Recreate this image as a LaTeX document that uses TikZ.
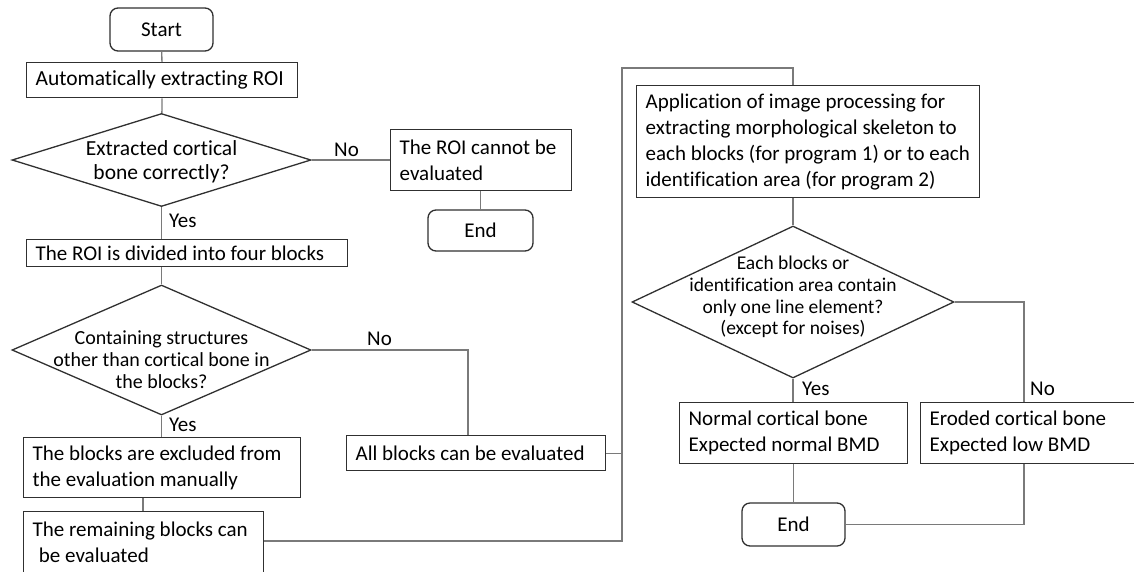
\documentclass[tikz,border=0pt]{standalone}
\usepackage{fontspec}
\setmainfont{Carlito}[Ligatures=CommonOff]
\usetikzlibrary{shapes.geometric}
\definecolor{boxc}{HTML}{303030}
\definecolor{linec}{HTML}{7A7A7A}
\newcommand\bxf{\fontsize{21}{26}\selectfont}
\newcommand\dxf{\fontsize{19.5}{21.7}\selectfont}
\tikzset{
  every node/.style={execute at begin node={\spaceskip=0.226em plus 0.1em minus 0.05em\relax}},
  box/.style={draw=boxc, line width=1.3pt, inner xsep=9pt, inner ysep=0pt, align=left, anchor=north west, font=\bxf},
  term/.style={draw=boxc, line width=1.3pt, rounded corners=8pt, inner sep=0pt, align=center, font=\bxf},
  dia/.style={draw=boxc, line width=1.3pt, shape=diamond, inner sep=0pt},
  dtext/.style={align=center, inner sep=0pt, font=\dxf},
  conn/.style={draw=linec, line width=1.3pt},
  lbl/.style={font=\bxf, inner sep=0pt, anchor=west}
}
\begin{document}
\begin{tikzpicture}[x=1pt,y=-1pt]
\useasboundingbox (0,0) rectangle (1134,571);
\clip (0,0) rectangle (1134,571);
% left column
\node[term, minimum width=103pt, minimum height=43pt] (start) at (161.5,29.5) {Start};
\node[box, text width=253pt, minimum height=35pt, font=\fontsize{21.5}{26}\selectfont] (auto) at (26,62) {Automatically extracting ROI};
\node[dia, minimum width=299pt, minimum height=93pt] (d1) at (161.5,160) {};
\node[dtext, font=\fontsize{21.5}{24}\selectfont] (d1t) at (161.5,162) {Extracted cortical\\bone correctly?};
\node[box, text width=163pt, minimum height=61pt] (roic) at (390,129) {The ROI cannot be\\evaluated};
\node[term, minimum width=105pt, minimum height=41pt] (end1) at (480.5,230.5) {End};
\node[box, text width=303pt, minimum height=27pt] (div) at (26,239) {The ROI is divided into four blocks};
\node[dia, minimum width=299pt, minimum height=130pt] (d2) at (161.5,350) {};
\node[dtext, font=\fontsize{20}{22}\selectfont] (d2t) at (161.5,360) {Containing structures\\other than cortical bone in\\the blocks?};
\node[box, text width=259pt, minimum height=60pt] (excl) at (23,437) {The blocks are excluded from\\the evaluation manually};
\node[box, text width=222pt, minimum height=61pt] (rem) at (23,511) {The remaining blocks can\\\hspace{0.3em}be evaluated};
\node[box, text width=241pt, minimum height=35pt] (all) at (346,435) {All blocks can be evaluated};
% right column
\node[box, text width=325pt, minimum height=112pt] (app) at (636,85) {Application of image processing for\\extracting morphological skeleton to\\each blocks (for program 1) or to each\\identification area (for program 2)};
\node[dia, minimum width=322pt, minimum height=152pt] (d3) at (793,302) {};
\node[dtext] (d3t) at (793,297) {Each blocks or\\identification area contain\\only one line element?\\(except for noises)};
\node[box, text width=210pt, minimum height=61pt] (norm) at (679,402) {Normal cortical bone\\Expected normal BMD};
\node[box, text width=210pt, minimum height=61pt] (ero) at (920,402) {Eroded cortical bone\\Expected low BMD};
\node[term, minimum width=103pt, minimum height=43pt] (end2) at (793.5,524.5) {End};
% labels
\node[lbl] (no1) at (334,150) {No};
\node[lbl] (yes1) at (169,221) {Yes};
\node[lbl] (no2) at (367,339) {No};
\node[lbl] (yes2) at (169,425) {Yes};
\node[lbl] (yes3) at (802,389) {Yes};
\node[lbl] (no3) at (1030,389) {No};
% helper coordinates
\coordinate (c2) at (468,350);
\coordinate (busB) at (622,541);
\coordinate (busT) at (622,68);
\coordinate (busR) at (793,68);
\coordinate (c3) at (1024,302);
% connectors
\draw[conn] (start) -- (auto);
\draw[conn] (auto) -- (d1);
\draw[conn] (d1.east) -- (d1.east -| roic.west);
\draw[conn] (roic.south -| end1.north) -- (end1.north);
\draw[conn] (d1.south) -- (d1.south |- div.north);
\draw[conn] (div.south -| d2.north) -- (d2.north);
\draw[conn] (d2.south) -- (d2.south |- excl.north);
\draw[conn] (excl.south -| 143,0) -- (rem.north -| 143,0);
\draw[conn] (d2.east) -- (c2) -- (c2 |- all.north);
\draw[conn] (rem.east |- busB) -- (busB) -- (busT) -- (busR) -- (busR |- app.north);
\draw[conn] (all.east) -- (all.east -| busB);
\draw[conn] (app.south -| d3.north) -- (d3.north);
\draw[conn] (d3.south) -- (d3.south |- norm.north);
\draw[conn] (norm.south -| end2.north) -- (end2.north);
\draw[conn] (d3.east) -- (c3) -- (c3 |- ero.north);
\draw[conn] (c3 |- ero.south) -- (c3 |- end2.east) -- (end2.east);
\end{tikzpicture}
\end{document}
